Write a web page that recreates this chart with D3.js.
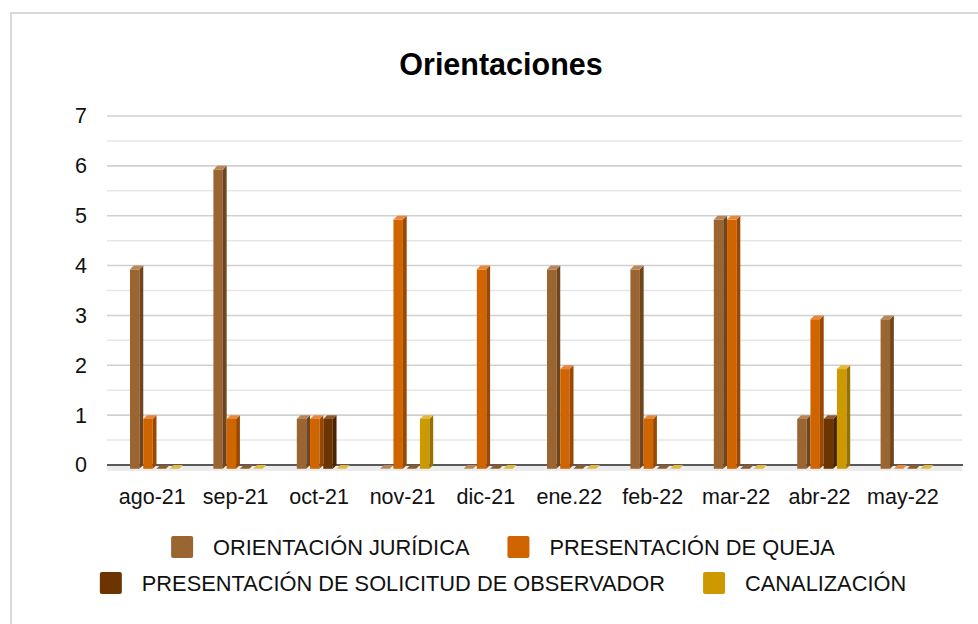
<!DOCTYPE html>
<html>
<head>
<meta charset="utf-8">
<script src="https://cdn.jsdelivr.net/npm/d3@7"></script>
<style>
  html, body { margin: 0; padding: 0; background: #fff; }
  svg { display: block; font-family: "Liberation Sans", Arial, sans-serif; }
</style>
</head>
<body>
<svg id="chart" width="978" height="624"></svg>
<script>
const categories = ["ago-21", "sep-21", "oct-21", "nov-21", "dic-21", "ene.22", "feb-22", "mar-22", "abr-22", "may-22"];
const seriesNames = ["ORIENTACIÓN JURÍDICA", "PRESENTACIÓN DE QUEJA", "PRESENTACIÓN DE SOLICITUD DE OBSERVADOR", "CANALIZACIÓN"];
const orientacionJuridica = [4, 6, 1, 0, 0, 4, 4, 5, 1, 3];
const presentacionQueja = [1, 1, 1, 5, 4, 2, 1, 5, 3, 0];
const solicitudObservador = [0, 0, 1, 0, 0, 0, 0, 0, 1, 0];
const canalizacion = [0, 0, 0, 1, 0, 0, 0, 0, 2, 0];
const yTicks = [0, 1, 2, 3, 4, 5, 6, 7];
const title = "Orientaciones";

const seriesValues = [orientacionJuridica, presentacionQueja, solicitudObservador, canalizacion];
const faceColors = ["#9B6532", "#D06500", "#6B3400", "#CC9A00"];
const sideColors = ["#6F4520", "#984800", "#4A2300", "#987200"];
const topColors  = ["#B98757", "#E8873C", "#8C5A2E", "#E2B93C"];

const svg = d3.select("#chart");

// frame
svg.append("rect").attr("x", 11).attr("y", 13).attr("width", 1100).attr("height", 1100)
  .attr("fill", "#fff").attr("stroke", "#d9d9d9").attr("stroke-width", 2);

// title
svg.append("text").attr("x", 501).attr("y", 75).attr("text-anchor", "middle")
  .attr("font-size", 30.5).attr("font-weight", "bold").attr("fill", "#000").text(title);

const gridLeft = 107, gridRight = 962;
const y = d3.scaleLinear().domain([0, 7]).range([465, 116]);
const x0 = d3.scaleBand().domain(categories).range([110.6, 944.6]).padding(0);
const x1 = d3.scaleBand().domain(seriesNames).range([0, 53]).padding(0);
const depth = 3.8;
const groupOffset = 19.4;

// gridlines: minor (halves) and major
const halfTicks = d3.range(0.5, 7, 1);
svg.append("g").selectAll("line").data(halfTicks).join("line")
  .attr("x1", gridLeft).attr("x2", gridRight)
  .attr("y1", d => y(d)).attr("y2", d => y(d))
  .attr("stroke", "#e6e6e6").attr("stroke-width", 1.5);
svg.append("g").selectAll("line").data(yTicks.filter(d => d > 0)).join("line")
  .attr("x1", gridLeft).attr("x2", gridRight)
  .attr("y1", d => y(d)).attr("y2", d => y(d))
  .attr("stroke", "#d0d0d0").attr("stroke-width", 1.6);

// floor
svg.append("rect").attr("x", gridLeft).attr("y", y(0) + 1).attr("width", gridRight - gridLeft).attr("height", 5)
  .attr("fill", "#ececec");
svg.append("line").attr("x1", gridLeft).attr("x2", gridRight + 1)
  .attr("y1", y(0)).attr("y2", y(0)).attr("stroke", "#222").attr("stroke-width", 1.5);

// y axis labels
const yAxis = d3.axisLeft(y).tickValues(yTicks).tickSize(0).tickPadding(0).tickFormat(d3.format("d"));
const yg = svg.append("g").attr("transform", "translate(87,0)").call(yAxis);
yg.select(".domain").remove();
yg.selectAll("text").attr("font-size", 21.5).attr("fill", "#111").attr("font-family", "Liberation Sans, Arial, sans-serif");

// x axis labels
const xAxis = d3.axisBottom(x0).tickSize(0).tickPadding(0);
const xg = svg.append("g").attr("transform", "translate(0,489)").call(xAxis);
xg.select(".domain").remove();
xg.selectAll("text").attr("font-size", 21.5).attr("fill", "#111").attr("dy", "0.71em").attr("font-family", "Liberation Sans, Arial, sans-serif");

// bars (3D look)
const barData = [];
categories.forEach((c, i) => {
  seriesNames.forEach((s, k) => {
    barData.push({ cat: c, key: s, k: k, value: seriesValues[k][i] });
  });
});
const bars = svg.append("g").selectAll("g").data(barData).join("g");
bars.each(function(d) {
  const g = d3.select(this);
  const xl = x0(d.cat) + groupOffset + x1(d.key);
  const w = x1.bandwidth() - depth;
  const yTop = y(d.value);
  const y0 = y(0);
  if (d.value > 0) {
    g.append("rect").attr("x", xl).attr("y", yTop + depth).attr("width", w).attr("height", y0 - yTop)
      .attr("fill", faceColors[d.k]);
    g.append("path").attr("d", `M${xl + w},${yTop + depth} L${xl + w + depth},${yTop} L${xl + w + depth},${y0} L${xl + w},${y0 + depth} Z`)
      .attr("fill", sideColors[d.k]);
  }
  g.append("path").attr("d", `M${xl},${yTop + depth} L${xl + depth},${yTop} L${xl + w + depth},${yTop} L${xl + w},${yTop + depth} Z`)
    .attr("fill", topColors[d.k]);
});

// legend
const rows = [[0, 1], [2, 3]];
const rowY = [547, 583];
const sw = 22, gapText = 20, gapItem = 38, centerX = 503;
rows.forEach((row, r) => {
  const lg = svg.append("g");
  let cx = 0;
  row.forEach((k, j) => {
    lg.append("rect").attr("x", cx).attr("y", rowY[r] - sw / 2).attr("width", sw).attr("height", sw)
      .attr("rx", 2).attr("fill", faceColors[k]);
    const t = lg.append("text").attr("x", cx + sw + gapText).attr("y", rowY[r]).attr("dy", "0.36em")
      .attr("font-size", 21.8).attr("fill", "#111").text(seriesNames[k]);
    cx += sw + gapText + t.node().getComputedTextLength() + gapItem;
  });
  const total = cx - gapItem;
  lg.attr("transform", `translate(${centerX - total / 2},0)`);
});
</script>
</body>
</html>
